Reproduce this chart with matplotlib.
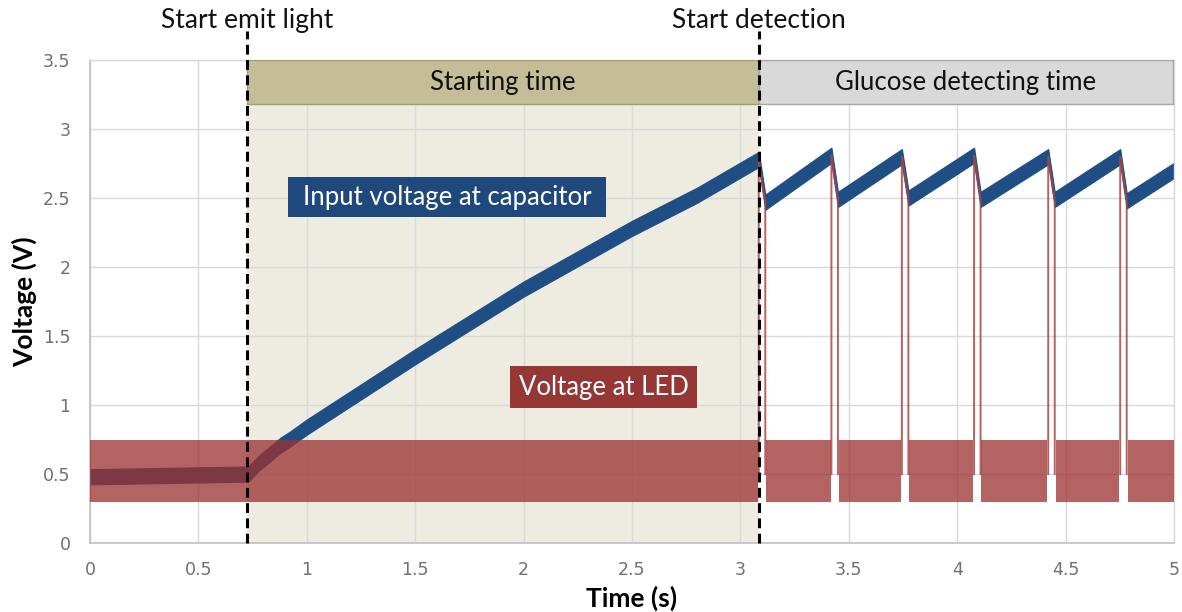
import numpy as np
import matplotlib
matplotlib.use("Agg")
import matplotlib.pyplot as plt
from matplotlib.patches import Rectangle

# ---------------- data ----------------
# Input voltage at capacitor: centre line of the noisy trace (s, V)
cap_time = [0.00, 0.73, 0.78, 0.88, 0.92, 1.00, 1.50, 2.00, 2.50, 2.80,
            3.085, 3.115, 3.42, 3.45, 3.745, 3.775, 4.078, 4.108,
            4.42, 4.45, 4.752, 4.782, 5.00]
cap_volt = [0.48, 0.50, 0.58, 0.71, 0.75, 0.84, 1.35, 1.84, 2.28, 2.52,
            2.78, 2.47, 2.81, 2.49, 2.80, 2.50, 2.81, 2.49,
            2.80, 2.49, 2.80, 2.48, 2.70]
cap_noise = 0.055          # half-width of the capacitor noise band (V)

# Voltage at LED: noise band and pulses (pulse start/end = capacitor peak/trough)
led_low = 0.30
led_high = 0.75
led_base = 0.50
pulse_start = [3.085, 3.42, 3.745, 4.078, 4.42, 4.752]
pulse_end = [3.115, 3.45, 3.775, 4.108, 4.45, 4.782]
pulse_top = [2.78, 2.81, 2.80, 2.81, 2.80, 2.80]
pulse_bottom = [2.47, 2.49, 2.50, 2.49, 2.49, 2.48]

start_emit = 0.724
start_detect = 3.086

x_ticks = [0, 0.5, 1, 1.5, 2, 2.5, 3, 3.5, 4, 4.5, 5]
x_tick_labels = ["0", "0.5", "1", "1.5", "2", "2.5", "3", "3.5", "4", "4.5", "5"]
y_ticks = [0, 0.5, 1, 1.5, 2, 2.5, 3, 3.5]
y_tick_labels = ["0", "0.5", "1", "1.5", "2", "2.5", "3", "3.5"]

# ---------------- figure ----------------
TXT_FONT = ["Lato", "DejaVu Sans"]
BLUE = "#1f4e85"
RED = "#9a3231"

fig = plt.figure(figsize=(11.82, 6.12), dpi=100)
ax = fig.add_axes([0.0761, 0.1127, 0.9171, 0.7892])
ax.set_xlim(0, 5)
ax.set_ylim(0, 3.5)
ax.set_axisbelow(True)

# shaded "starting time" area
ax.add_patch(Rectangle((start_emit, 0), start_detect - start_emit, 3.18,
                       facecolor="#eeece1", edgecolor="none", zorder=0.2))

# grid
ax.set_xticks(x_ticks)
ax.set_xticklabels(x_tick_labels)
ax.set_yticks(y_ticks)
ax.set_yticklabels(y_tick_labels)
ax.grid(True, color="#d9d9d9", linewidth=1.0)
for s in ["top", "right"]:
    ax.spines[s].set_color("#d9d9d9")
    ax.spines[s].set_linewidth(1.0)
for s in ["left", "bottom"]:
    ax.spines[s].set_color("#c0c0c0")
    ax.spines[s].set_linewidth(1.2)
ax.tick_params(length=0, labelsize=12.5, labelcolor="#707070")
ax.tick_params(axis="y", pad=14)
ax.tick_params(axis="x", pad=13)
for lab in ax.get_xticklabels() + ax.get_yticklabels():
    lab.set_family("DejaVu Sans")

# capacitor trace (noise band)
ct = np.array(cap_time)
cv = np.array(cap_volt)
ax.fill_between(ct, cv - cap_noise, cv + cap_noise, color=BLUE,
                linewidth=0.8, edgecolor=BLUE, zorder=2)

# LED noise band, interrupted at each pulse
seg_starts = [0.0] + [e + 0.004 for e in pulse_end]
seg_ends = [s - 0.004 for s in pulse_start] + [5.0]
for a, b in zip(seg_starts, seg_ends):
    ax.fill_between([a, b], [led_low] * 2, [led_high] * 2,
                    color=RED, alpha=0.76, linewidth=0, zorder=3)

# LED pulses
for s, e, top, bot in zip(pulse_start, pulse_end, pulse_top, pulse_bottom):
    ax.plot([s, s, e, e], [led_base, top, bot, led_base], color="#a84644",
            alpha=0.85, linewidth=1.4, zorder=3)

# header boxes
ax.add_patch(Rectangle((start_emit, 3.18), start_detect - start_emit, 0.32,
                       facecolor="#c4bd97", edgecolor="#a69d73", linewidth=1.0,
                       zorder=4))
ax.add_patch(Rectangle((start_detect, 3.18), 4.995 - start_detect, 0.32,
                       facecolor="#d9d9d9", edgecolor="#a6a6a6", linewidth=1.0,
                       zorder=4))
ax.text((start_emit + start_detect) / 2, 3.335, "Starting time", ha="center",
        va="center", fontsize=18.5, family=TXT_FONT, color="#111111", zorder=6)
ax.text((start_detect + 4.995) / 2, 3.335, "Glucose detecting time", ha="center",
        va="center", fontsize=18.5, family=TXT_FONT, color="#111111", zorder=6)

# dashed markers
for xv in [start_emit, start_detect]:
    ax.plot([xv, xv], [0, 3.71], color="black", linewidth=2.2,
            linestyle=(0, (3.2, 1.8)), clip_on=False, zorder=5)
ax.text(start_emit, 3.79, "Start emit light", ha="center", va="center",
        fontsize=19, family=TXT_FONT, color="#111111", clip_on=False)
ax.text(start_detect, 3.79, "Start detection", ha="center", va="center",
        fontsize=19, family=TXT_FONT, color="#111111", clip_on=False)

# series labels
ax.add_patch(Rectangle((0.913, 2.362), 2.380 - 0.913, 2.652 - 2.362,
                       facecolor="#1f497d", edgecolor="none", zorder=6))
ax.text((0.913 + 2.380) / 2, (2.362 + 2.652) / 2, "Input voltage at capacitor",
        ha="center", va="center", fontsize=18.5, family=TXT_FONT, color="white",
        zorder=7)
ax.add_patch(Rectangle((1.937, 0.978), 2.80 - 1.937, 1.283 - 0.978,
                       facecolor="#953735", edgecolor="none", zorder=6))
ax.text((1.937 + 2.80) / 2, (0.978 + 1.283) / 2, "Voltage at LED",
        ha="center", va="center", fontsize=18.5, family=TXT_FONT, color="white",
        zorder=7)

# axis labels
ax.set_xlabel("Time (s)", fontsize=19, fontweight="bold", family=TXT_FONT,
              labelpad=5)
ax.set_ylabel("Voltage (V)", fontsize=19, fontweight="bold", family=TXT_FONT,
              labelpad=4)

fig.savefig("out.png", dpi=100)
